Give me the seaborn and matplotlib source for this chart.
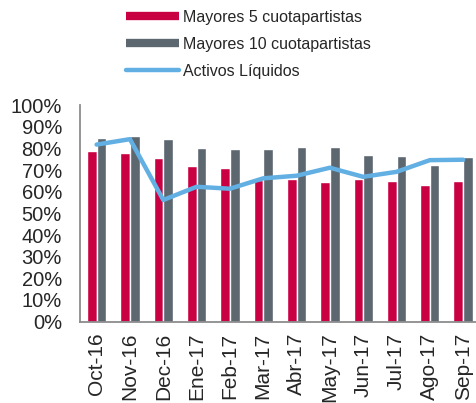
import numpy as np
import pandas as pd
import matplotlib
matplotlib.use("Agg")
import matplotlib.pyplot as plt
from matplotlib.lines import Line2D
from matplotlib.ticker import FuncFormatter
import seaborn as sns

# ── Data ──────────────────────────────────────────────────────────────────────
meses = ["Oct-16", "Nov-16", "Dec-16", "Ene-17", "Feb-17", "Mar-17",
         "Abr-17", "May-17", "Jun-17", "Jul-17", "Ago-17", "Sep-17"]
mayores5 = [78.8, 77.7, 75.7, 72.0, 71.2, 65.4, 66.0, 64.3, 65.7, 65.0, 63.0, 65.0]
mayores10 = [85.0, 85.8, 84.6, 80.0, 79.8, 79.7, 80.9, 80.5, 77.0, 76.3, 72.5, 76.2]
activos = [81.8, 84.3, 56.2, 62.3, 61.4, 66.2, 67.4, 71.1, 66.9, 69.2, 74.6, 74.8]

RED, GRAY, BLUE = "#C90042", "#5C6770", "#62B0E3"

df = pd.DataFrame({
    "mes": meses * 2,
    "valor": mayores5 + mayores10,
    "serie": ["Mayores 5 cuotapartistas"] * 12 + ["Mayores 10 cuotapartistas"] * 12,
})

sns.set_style("white")
plt.rcParams["font.family"] = ["Liberation Sans", "DejaVu Sans"]

fig = plt.figure(figsize=(4.76, 4.03), dpi=100)
ax = fig.add_axes([0.168, 0.202, 0.84, 0.537])

sns.barplot(data=df, x="mes", y="valor", hue="serie", palette=[RED, GRAY],
            width=0.58, gap=0, saturation=1, legend=False, ax=ax)
sns.lineplot(x=np.arange(len(meses)), y=activos, color=BLUE, lw=3.2,
             solid_capstyle="round", solid_joinstyle="round", ax=ax, zorder=5)

ax.set_xlim(-0.5, 11.5)
ax.set_ylim(0, 100)
ax.set_yticks(np.arange(0, 101, 10))
ax.yaxis.set_major_formatter(FuncFormatter(lambda v, _: f"{v:.0f}%"))
ax.set_xticks(range(len(meses)))
ax.set_xticklabels(meses, rotation=90, fontsize=15)
ax.tick_params(axis="y", labelsize=14.5, length=0, pad=13)
ax.tick_params(axis="x", length=0, pad=8)
ax.set_xlabel("")
ax.set_ylabel("")
for s in ["top", "right"]:
    ax.spines[s].set_visible(False)
for s in ["left", "bottom"]:
    ax.spines[s].set_color("#8C8C8C")
    ax.spines[s].set_linewidth(1.3)

handles = [
    Line2D([], [], color=RED, lw=6, solid_capstyle="butt"),
    Line2D([], [], color=GRAY, lw=6, solid_capstyle="butt"),
    Line2D([], [], color=BLUE, lw=3.2, solid_capstyle="round"),
]
labels = ["Mayores 5 cuotapartistas", "Mayores 10 cuotapartistas", "Activos Líquidos"]
fig.legend(handles, labels, loc="upper left", bbox_to_anchor=(0.245, 1.0),
           frameon=False, fontsize=11.5, handlelength=3.3, handletextpad=0.25,
           labelspacing=0.75, borderaxespad=0.2)

plt.savefig("out.png", dpi=100)
plt.close()
